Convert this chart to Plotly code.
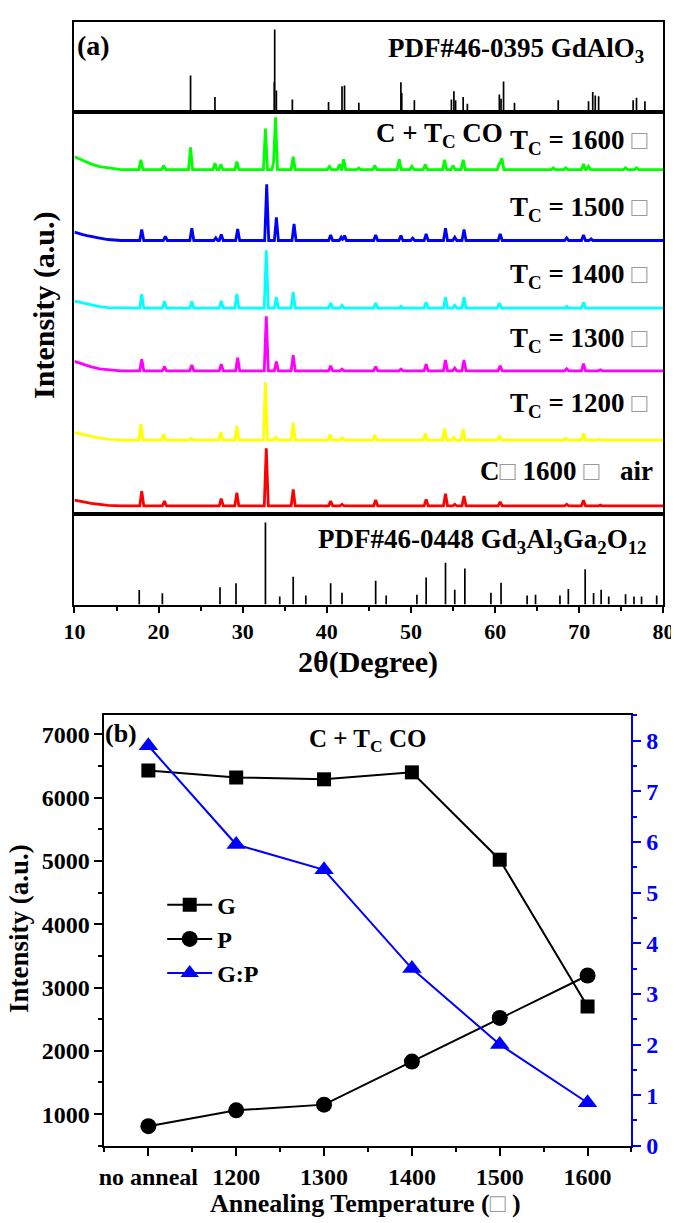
import numpy as np
import plotly.graph_objects as go

W, H = 679, 1223
FONT = "Liberation Serif"

# ---------------- Panel (a) data ----------------
two_theta_range = [10, 80]

# reference pattern PDF#46-0395 GdAlO3 (top)
gdalo3_pos = [23.8, 26.7, 33.75, 33.8, 34.0, 35.9, 40.2, 41.8, 42.1, 43.8, 48.8, 48.9, 50.4,
              54.8, 55.1, 55.3, 56.2, 56.7, 60.5, 60.7, 61.0, 62.3, 67.5, 71.1, 71.6, 71.9,
              72.3, 76.4, 76.8, 77.8]
gdalo3_int = [44, 18, 36, 100, 26, 15, 12, 31, 32, 11, 36, 23, 14,
              15, 25, 14, 18, 10, 21, 16, 37, 11, 14, 13, 24, 20,
              19, 14, 17, 13]

# reference pattern PDF#46-0448 Gd3Al3Ga2O12 (bottom)
ggag_pos = [17.7, 20.45, 27.3, 29.2, 32.7, 34.4, 36.0, 37.5, 40.45, 41.8, 45.8, 47.05, 50.7,
            51.8, 54.1, 55.2, 56.4, 59.5, 60.7, 63.8, 64.8, 67.7, 68.7, 70.7, 71.7, 72.6,
            73.5, 75.5, 76.5, 77.4, 79.2]
ggag_int = [17.7, 13.7, 21, 26, 100, 10, 34, 11, 26, 14.5, 29, 11, 12,
            33, 51, 18, 44, 14.5, 26.5, 11, 12, 11, 19, 43, 14, 18,
            10, 12.5, 10, 10, 11]

# measured patterns (relative intensities, a.u.)
pattern_names = ["1600 CO", "1500 CO", "1400 CO", "1300 CO", "1200 CO", "1600 air"]
pattern_colors = ["#00FF00", "#0000FF", "#00FFFF", "#FF00FF", "#FFFF00", "#FF0000"]
pattern_offsets = [347.7, 276.0, 207.7, 144.3, 74.3, 7.7]

bg_x = [10, 10.5, 11, 11.5, 12, 13, 14, 15.5]
bg_1600 = [13, 11, 9, 7, 5.5, 3, 1.5, 0]
bg_1500 = [8.5, 7, 6, 5, 4, 2.5, 1, 0]
bg_1400 = [7, 6, 5, 4, 3, 1.5, 0.5, 0]
bg_1300 = [9.5, 8, 6.5, 5, 4, 2, 1, 0]
bg_1200 = [7.5, 6.5, 5.5, 4.5, 3.5, 2, 1, 0]
bg_air = [6, 5, 4, 3.5, 2.5, 1.5, 0.5, 0]

pk_1600_x = [17.9, 20.6, 23.8, 26.7, 27.4, 29.3, 32.7, 33.7, 33.9, 36.0, 40.3, 41.5, 42.0, 43.8,
             45.7, 48.6, 50.1, 51.7, 54.0, 55.0, 56.2, 60.5, 60.8, 66.9, 68.4, 70.5, 71.1, 75.5, 76.8]
pk_1600_h = [10, 4, 22.5, 6.5, 5, 8, 41.5, 8, 51.5, 13, 3, 5, 10.5, 1.5,
             4, 10.5, 3.3, 5, 10, 4, 10, 7, 11.5, 1.7, 1.7, 5.6, 3.3, 1.7, 1.7]

pk_1500_x = [18.0, 20.8, 23.95, 26.8, 27.45, 29.4, 32.85, 34.0, 36.1, 40.45, 41.7, 42.1, 45.8,
             48.8, 50.2, 51.8, 54.1, 55.2, 56.3, 60.6, 68.5, 70.5, 71.4]
pk_1500_h = [11, 4.3, 12.3, 2.7, 6, 11.7, 56.7, 23.3, 16.7, 5.7, 3.3, 5, 5.7,
             5, 2.3, 6.7, 12.3, 3.3, 11, 6.7, 2.7, 5.7, 1.7]

pk_1400_x = [18.0, 20.7, 23.95, 27.45, 29.3, 32.8, 34.0, 36.0, 40.45, 41.8, 45.8, 48.8, 51.8,
             54.1, 55.2, 56.3, 60.5, 68.5, 70.5]
pk_1400_h = [14, 6.7, 6.7, 7.3, 14.3, 58.3, 11, 16, 5, 2.7, 5, 1.7, 6,
             11, 2.7, 11, 5, 1.7, 5.7]

pk_1300_x = [18.0, 20.7, 23.95, 27.45, 29.4, 32.8, 34.0, 36.0, 40.45, 41.8, 45.8, 48.8, 51.8,
             54.1, 55.2, 56.3, 60.6, 68.5, 70.5, 72.5]
pk_1300_h = [11.7, 4.3, 6, 6.7, 13.3, 55, 9.3, 15.7, 5, 1.7, 4.3, 1.7, 6.7,
             11, 2.7, 11, 5, 2, 7.3, 1]

pk_1200_x = [17.9, 20.6, 23.9, 27.4, 29.3, 32.7, 33.9, 36.0, 40.4, 41.8, 45.7, 51.7, 54.0,
             55.1, 56.2, 60.5, 68.4, 70.5, 72.4]
pk_1200_h = [16, 6, 1.7, 7.7, 14.3, 58.3, 2.7, 17.7, 5.7, 2.3, 5, 6.7, 11.7,
             2.7, 11, 4.3, 1.7, 6.7, 1]

pk_air_x = [18.0, 20.7, 27.45, 29.3, 32.8, 36.0, 40.45, 41.8, 45.8, 51.8, 54.1, 55.2, 56.3,
            60.6, 68.5, 70.5, 72.5]
pk_air_h = [15, 5, 7.3, 13.3, 58.3, 16.7, 5, 1.7, 6, 6.7, 12.3, 1.7, 10,
            4, 1.7, 5.7, 1]

pattern_bg = [bg_1600, bg_1500, bg_1400, bg_1300, bg_1200, bg_air]
pattern_pk_x = [pk_1600_x, pk_1500_x, pk_1400_x, pk_1300_x, pk_1200_x, pk_air_x]
pattern_pk_h = [pk_1600_h, pk_1500_h, pk_1400_h, pk_1300_h, pk_1200_h, pk_air_h]

# ---------------- Panel (b) data ----------------
anneal_labels = ["no anneal", "1200", "1300", "1400", "1500", "1600"]
G_intensity = [6430, 6320, 6290, 6400, 5020, 2700]
P_intensity = [810, 1060, 1150, 1830, 2520, 3190]
GP_ratio = [7.9, 5.95, 5.45, 3.5, 2.0, 0.85]

# ---------------- helpers ----------------
def px(x):
    return x / W

def py(y):
    return 1 - y / H

HALF_W = 0.24  # peak half width in degrees (drawing style)

def pattern_vertices(offset, bg, pk_x, pk_h):
    verts = set(bg_x) | {80.0}
    for p in pk_x:
        verts |= {p - HALF_W, p, p + HALF_W}
    xs = np.array(sorted(verts))
    ys = np.interp(xs, bg_x, bg, right=0.0)
    for p, h in zip(pk_x, pk_h):
        ys = ys + np.clip(h * (1 - np.abs(xs - p) / HALF_W), 0, None)
    return xs, ys + offset

def sticks(pos, inten):
    xs, ys = [], []
    for p, h in zip(pos, inten):
        xs += [p, p, None]
        ys += [0, h, None]
    return xs, ys

fig = go.Figure()

sx, sy = sticks(gdalo3_pos, gdalo3_int)
fig.add_trace(go.Scatter(x=sx, y=sy, mode="lines", line=dict(color="black", width=1.7),
                         xaxis="x3", yaxis="y3", showlegend=False, hoverinfo="skip"))
sx, sy = sticks(ggag_pos, ggag_int)
fig.add_trace(go.Scatter(x=sx, y=sy, mode="lines", line=dict(color="black", width=1.7),
                         xaxis="x", yaxis="y", showlegend=False, hoverinfo="skip"))
for name, col, off, bg, kx, kh in zip(pattern_names, pattern_colors, pattern_offsets,
                                        pattern_bg, pattern_pk_x, pattern_pk_h):
    xs, ys = pattern_vertices(off, bg, kx, kh)
    fig.add_trace(go.Scatter(x=xs, y=ys, mode="lines", name=name,
                             line=dict(color=col, width=2.8),
                             xaxis="x2", yaxis="y2", showlegend=False))

xcat = list(range(len(anneal_labels)))
fig.add_trace(go.Scatter(x=xcat, y=G_intensity, name="G", mode="lines+markers",
                         line=dict(color="black", width=2),
                         marker=dict(symbol="square", size=14, color="black"),
                         xaxis="x4", yaxis="y4"))
fig.add_trace(go.Scatter(x=xcat, y=P_intensity, name="P", mode="lines+markers",
                         line=dict(color="black", width=2),
                         marker=dict(symbol="circle", size=16, color="black"),
                         xaxis="x4", yaxis="y4"))
fig.add_trace(go.Scatter(x=xcat, y=GP_ratio, name="G:P", mode="lines+markers",
                         line=dict(color="#0000FF", width=2),
                         marker=dict(symbol="triangle-up", size=17, color="#0000FF"),
                         xaxis="x4", yaxis="y5"))

bold = dict(family=FONT, weight="bold", color="black")
axline = dict(showline=True, linecolor="black", linewidth=2, showgrid=False, zeroline=False)
xdom_a = [px(57.3), px(666)]

fig.update_layout(
    width=W, height=H, margin=dict(l=0, r=0, t=0, b=0),
    paper_bgcolor="white", plot_bgcolor="rgba(0,0,0,0)",
    font=dict(family=FONT, weight="bold", color="black", size=18),
    xaxis=dict(domain=xdom_a, range=two_theta_range, anchor="y", mirror=True,
               ticks="outside", ticklen=6, tickwidth=1.5, tickcolor="black",
               tick0=10, dtick=10, tickfont=dict(size=22, **bold),
               minor=dict(dtick=5, tick0=10, ticks="outside", ticklen=4, tickwidth=1.5,
                          tickcolor="black"),
               **axline),
    yaxis=dict(domain=[py(603), py(511)], range=[0, 110.8], anchor="x", mirror=True,
               showticklabels=False, ticks="", **axline),
    xaxis2=dict(domain=xdom_a, range=two_theta_range, anchor="y2", mirror=True,
                showticklabels=False, ticks="", **axline),
    yaxis2=dict(domain=[py(511), py(105)], range=[0, 406], anchor="x2", mirror=True,
                showticklabels=False, ticks="", **axline),
    xaxis3=dict(domain=xdom_a, range=two_theta_range, anchor="y3", mirror=True,
                showticklabels=False, ticks="", **axline),
    yaxis3=dict(domain=[py(105), py(14)], range=[0, 109.2], anchor="x3", mirror=True,
                showticklabels=False, ticks="", **axline),
    xaxis4=dict(domain=[px(88.3), px(633)], range=[-0.5, 5.5], anchor="y4", mirror=True,
                tickvals=xcat, ticktext=anneal_labels, ticks="outside", ticklen=8,
                tickwidth=1.5, tickcolor="black", tickfont=dict(size=24, **bold),
                minor=dict(tickvals=[-0.5, 0.5, 1.5, 2.5, 3.5, 4.5, 5.5], ticks="outside",
                           ticklen=4, tickwidth=1.5, tickcolor="black"),
                **axline),
    yaxis4=dict(domain=[py(1150), py(715)], range=[500, 7300], anchor="x4",
                tick0=1000, dtick=1000, ticks="outside", ticklen=8, tickwidth=1.5,
                tickcolor="black", tickfont=dict(size=24, **bold),
                minor=dict(tick0=500, dtick=500, ticks="outside", ticklen=4, tickwidth=1.5,
                           tickcolor="black"),
                **axline),
    yaxis5=dict(overlaying="y4", side="right", anchor="x4", range=[0, 8.5],
                tick0=0, dtick=1, ticks="outside", ticklen=8, tickwidth=1.5,
                tickcolor="#0000FF", tickfont=dict(size=24, family=FONT, weight="bold",
                                                   color="#0000FF"),
                minor=dict(tick0=0, dtick=0.5, ticks="outside", ticklen=4, tickwidth=1.5,
                           tickcolor="#0000FF"),
                showline=True, linecolor="#0000FF", linewidth=2, showgrid=False,
                zeroline=False),
    legend=dict(x=px(148), y=py(884), xanchor="left", yanchor="top",
                bgcolor="rgba(0,0,0,0)", font=dict(size=24, **bold), tracegroupgap=0,
                itemwidth=45),
)

def ann(text, x, y, size=27, xanchor="center", angle=0, color="black"):
    fig.add_annotation(text=text, x=px(x), y=py(y), xref="paper", yref="paper",
                       showarrow=False, xanchor=xanchor, yanchor="middle", textangle=angle,
                       font=dict(family=FONT, weight="bold", size=size, color=color))

BOX = "<span style='color:#9a9a9a'>□</span>"

ann("(a)", 58, 38, size=28, xanchor="left")
ann("PDF#46-0395 GdAlO<sub>3</sub>", 648, 42, xanchor="right")
ann("C + T<sub>C</sub> CO", 435, 128)
ann("T<sub>C</sub> = 1600 " + BOX, 652, 135, xanchor="right")
ann("T<sub>C</sub> = 1500 " + BOX, 652, 203, xanchor="right")
ann("T<sub>C</sub> = 1400 " + BOX, 652, 271, xanchor="right")
ann("T<sub>C</sub> = 1300 " + BOX, 652, 336, xanchor="right")
ann("T<sub>C</sub> = 1200 " + BOX, 652, 401, xanchor="right")
ann("C" + BOX + " 1600 " + BOX + "   air", 657, 468, xanchor="right")
ann("PDF#46-0448 Gd<sub>3</sub>Al<sub>3</sub>Ga<sub>2</sub>O<sub>12</sub>", 651, 539,
    xanchor="right")
ann("2θ(Degree)", 361, 661, size=30)
ann("Intensity (a.u.)", 26, 300, size=30, angle=-90)

ann("(b)", 87, 733, size=26, xanchor="left")
ann("C + T<sub>C</sub> CO", 360, 740, size=25)
ann("Annealing Temperature (" + BOX + " )", 358, 1208, size=26)
ann("Intensity (a.u.)", 0, 931, size=27, angle=-90)
ann("Relative Ratio", 685, 931, size=27, angle=-90)

fig.write_html("out.html")
